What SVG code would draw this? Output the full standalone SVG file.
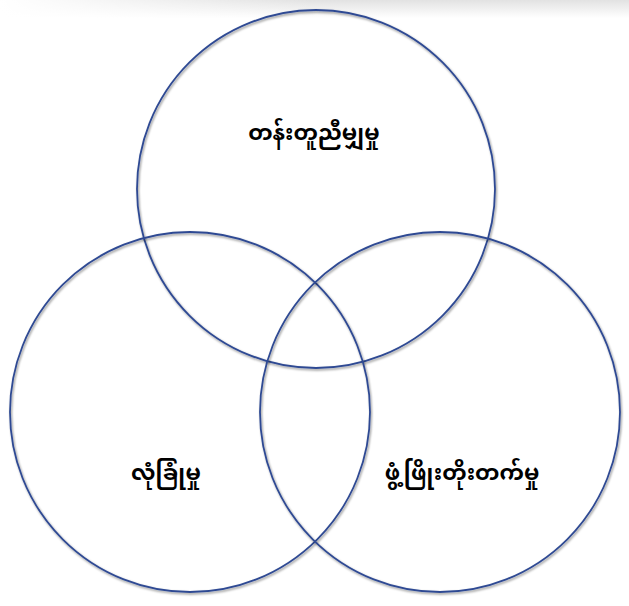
<svg xmlns="http://www.w3.org/2000/svg" width="629" height="606" viewBox="0 0 629 606">
<defs>
<linearGradient id="topg" x1="0" y1="0" x2="0" y2="1">
<stop offset="0" stop-color="#e2e2e2"/>
<stop offset="1" stop-color="#ffffff"/>
</linearGradient>
<linearGradient id="topfade" x1="0" y1="0" x2="1" y2="0">
<stop offset="0" stop-color="#ffffff" stop-opacity="1"/>
<stop offset="0.5" stop-color="#ffffff" stop-opacity="0"/>
</linearGradient>
<filter id="sh" x="-10%" y="-10%" width="120%" height="120%">
<feDropShadow dx="1" dy="1.5" stdDeviation="1.2" flood-color="#000" flood-opacity="0.45"/>
</filter>
<style>
.c{fill:none;stroke:#2f4a93;stroke-width:1.8;filter:url(#sh)}
.t{font-family:"Noto Sans Myanmar","Padauk","Myanmar Text","Noto Sans",sans-serif;font-size:22px;font-weight:bold;fill:#000;text-anchor:middle}
</style>
</defs>
<rect width="629" height="606" fill="#fff"/>
<rect width="629" height="18" fill="url(#topg)"/>
<rect width="629" height="18" fill="url(#topfade)"/>
<g id="connectors"></g>
<g id="node-equality">
<circle class="c" cx="316" cy="189" r="179"/>
<text class="t" x="314" y="140">တန်းတူညီမျှမှု</text>
</g>
<g id="node-security">
<circle class="c" cx="190" cy="412" r="180"/>
<text class="t" x="166" y="480">လုံခြုံမှု</text>
</g>
<g id="node-development">
<circle class="c" cx="440" cy="412" r="180"/>
<text class="t" x="462" y="480">ဖွံ့ဖြိုးတိုးတက်မှု</text>
</g>
</svg>
